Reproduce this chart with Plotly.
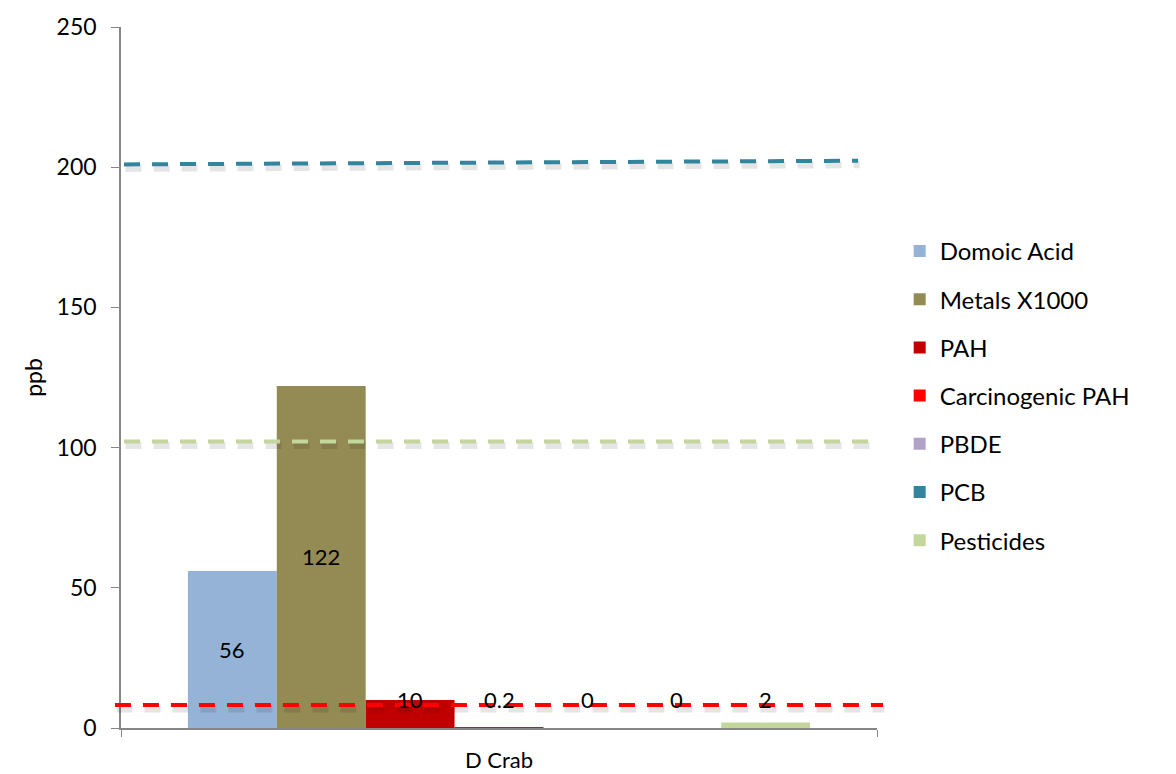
import plotly.graph_objects as go

# Contaminant concentrations in D Crab (ppb)
category = ["D Crab"]
series_names = ["Domoic Acid", "Metals X1000", "PAH", "Carcinogenic PAH",
                "PBDE", "PCB", "Pesticides"]
series_values = [56, 122, 10, 0.2, 0, 0, 2]
series_labels = ["56", "122", "10", "0.2", "0", "0", "2"]
series_colors = ["#95B3D7", "#948A54", "#C00000", "#FF0000",
                 "#B3A2C7", "#31859C", "#C3D69B"]

# Screening thresholds drawn as dashed reference lines (start, end values)
threshold_pcb = [201.0, 202.3]
threshold_pesticides = [102.2, 102.2]
threshold_carc_pah = [8.2, 8.2]

y_ticks = [0, 50, 100, 150, 200, 250]

FONT = "Lato"
W, H = 1176, 774
M_L, M_R, M_T, M_B = 121, 299, 27, 46
Y_MAX = 250
px_per_unit = (H - M_T - M_B) / Y_MAX

fig = go.Figure()
for name, val, color in zip(series_names, series_values, series_colors):
    fig.add_trace(go.Bar(
        x=category, y=[val], name=name,
        marker=dict(color=color, line=dict(width=0)),
        legendgroup=name,
    ))

# data labels centred over each bar of the group, lifted above the axis for short bars
n = len(series_names)
bargap = 0.177
group_w = 1 - bargap
for i, (val, lab) in enumerate(zip(series_values, series_labels)):
    fig.add_annotation(
        x=-group_w / 2 + group_w / n * (i + 0.5), y=max(val / 2, 10),
        text=lab, showarrow=False, xref="x", yref="y",
        font=dict(family=FONT, size=22, color="#000000"),
    )

# dashed threshold lines with a soft shadow underneath
shadow_off = 4 / px_per_unit
lines = [
    (threshold_pcb, "#31859C", 0.004, 0.975),
    (threshold_pesticides, "#C3D69B", 0.004, 0.991),
    (threshold_carc_pah, "#FF0000", -0.008, 1.008),
]
for vals, color, x0, x1 in lines:
    fig.add_shape(type="line", xref="paper", yref="y",
                  x0=x0 + 0.002, x1=x1 + 0.002,
                  y0=vals[0] - shadow_off, y1=vals[1] - shadow_off,
                  line=dict(color="rgba(0,0,0,0.10)", width=7, dash="16px,12px"),
                  layer="above")
for vals, color, x0, x1 in lines:
    fig.add_shape(type="line", xref="paper", yref="y",
                  x0=x0, x1=x1, y0=vals[0], y1=vals[1],
                  line=dict(color=color, width=4, dash="16px,12px"),
                  layer="above")

fig.update_layout(
    width=W, height=H,
    margin=dict(l=M_L, r=M_R, t=M_T, b=M_B, pad=0),
    paper_bgcolor="white", plot_bgcolor="white",
    barmode="group", bargap=bargap, bargroupgap=0,
    font=dict(family=FONT, size=23, color="#000000"),
    showlegend=True,
    legend=dict(
        x=1.030, xanchor="left", y=0.712, yanchor="top",
        font=dict(family=FONT, size=24, color="#000000"),
        traceorder="grouped", tracegroupgap=14,
        itemclick=False, bgcolor="rgba(0,0,0,0)",
    ),
    xaxis=dict(
        type="category", range=[-0.5, 0.5], automargin=False,
        showline=True, linecolor="#868686", linewidth=1.5,
        ticks="outside", tickson="boundaries", ticklen=7, tickcolor="#868686",
        showgrid=False, zeroline=False,
        tickfont=dict(family=FONT, size=22),
        ticklabelstandoff=12,
    ),
    yaxis=dict(
        range=[0, Y_MAX], tickvals=y_ticks, automargin=False,
        showline=True, linecolor="#868686", linewidth=1.5,
        ticks="outside", ticklen=8, tickcolor="#868686",
        showgrid=False, zeroline=False,
        tickfont=dict(family=FONT, size=23),
        ticklabelstandoff=10,
        title=dict(text="ppb", font=dict(family=FONT, size=23), standoff=8),
    ),
)

fig.write_html("out.html")
